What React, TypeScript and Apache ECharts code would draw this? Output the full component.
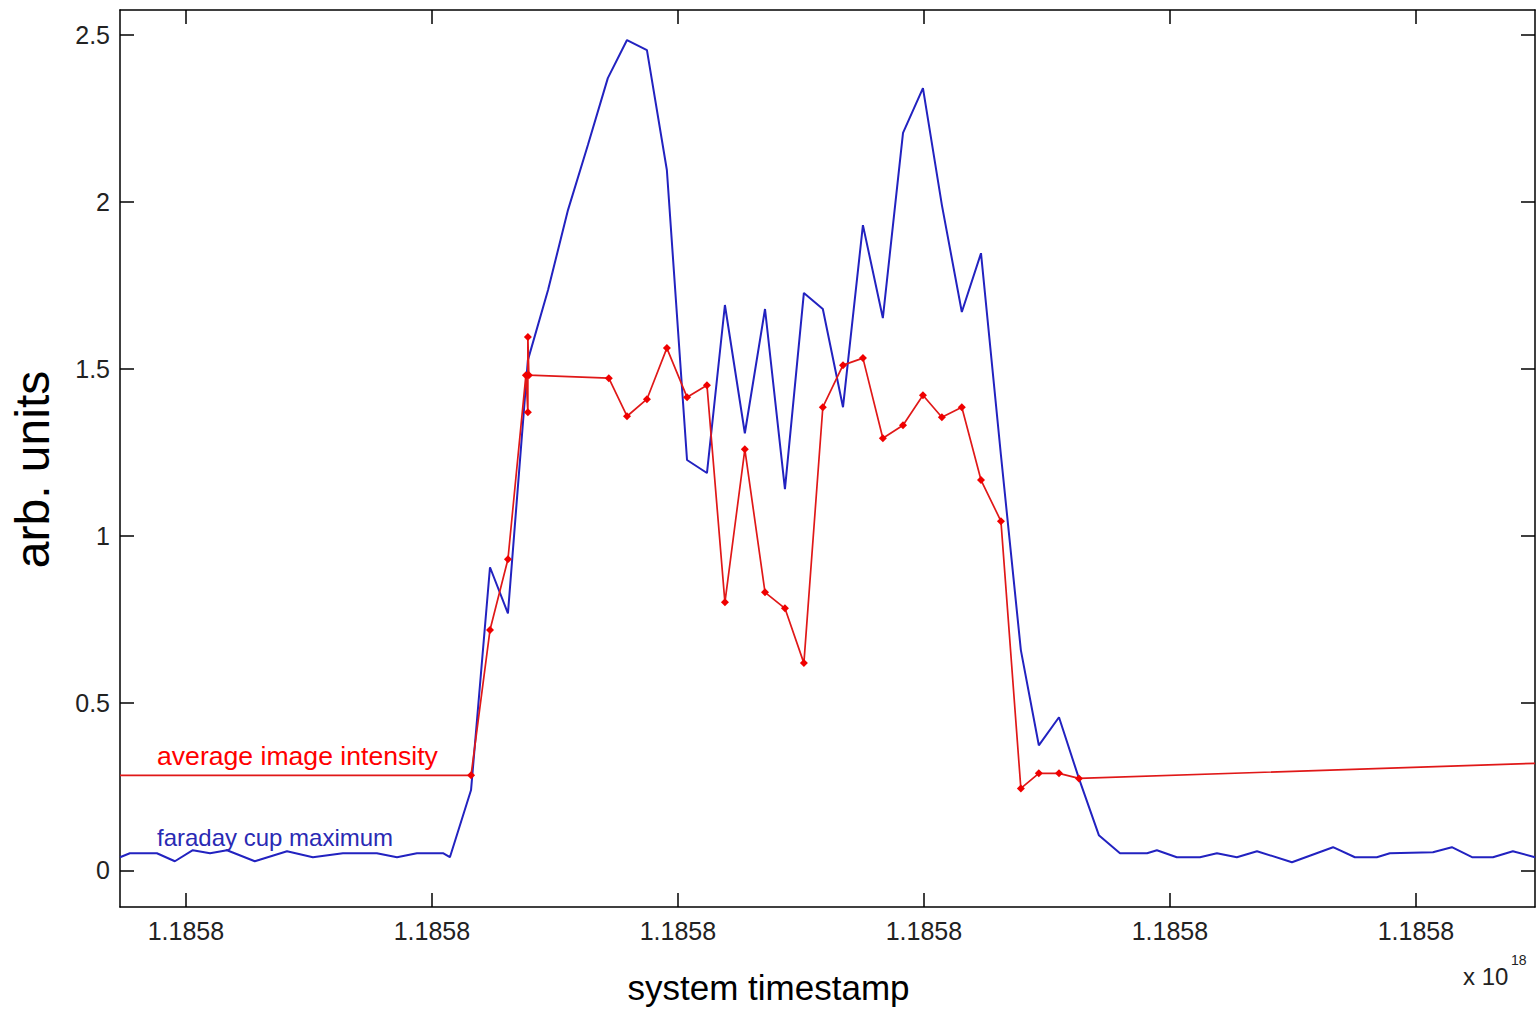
import React, { useEffect, useRef } from 'react';
import * as echarts from 'echarts';

// x in units of tick spacing (all ticks labelled 1.1858 x 10^18)
const xTicks = [1, 2, 3, 4, 5, 6];
const xTickLabels = ['1.1858', '1.1858', '1.1858', '1.1858', '1.1858', '1.1858'];
const yTicks = [0, 0.5, 1, 1.5, 2, 2.5];
const yTickLabels = ['0', '0.5', '1', '1.5', '2', '2.5'];
const X_MIN = 0.732;
const X_MAX = 6.484;
const Y_MIN = -0.11;
const Y_MAX = 2.575;

const blueTime = [
  0.732, 0.772, 0.882, 0.955, 1.028, 1.098, 1.167, 1.28, 1.411, 1.516, 1.638, 1.776, 1.858, 1.939,
  2.045, 2.073, 2.159, 2.236, 2.309, 2.39, 2.472, 2.553, 2.634, 2.715, 2.793, 2.874, 2.955, 3.037,
  3.118, 3.191, 3.272, 3.354, 3.435, 3.512, 3.589, 3.671, 3.752, 3.833, 3.915, 3.996, 4.073, 4.154,
  4.232, 4.313, 4.394, 4.467, 4.549, 4.63, 4.711, 4.797, 4.907, 4.947, 5.028, 5.122, 5.191, 5.272,
  5.354, 5.496, 5.663, 5.752, 5.841, 5.894, 6.069, 6.146, 6.228, 6.313, 6.394, 6.484,
];
const blueValue = [
  0.039, 0.051, 0.051, 0.027, 0.06, 0.051, 0.06, 0.027, 0.057, 0.039, 0.051, 0.051, 0.039, 0.051,
  0.051, 0.039, 0.24, 0.907, 0.769, 1.527, 1.737, 1.976, 2.171, 2.371, 2.485, 2.455, 2.096, 1.228,
  1.189, 1.692, 1.308, 1.68, 1.141, 1.728, 1.68, 1.386, 1.931, 1.653, 2.207, 2.341, 1.991, 1.671,
  1.847, 1.243, 0.659, 0.374, 0.458, 0.275, 0.105, 0.051, 0.051, 0.06, 0.039, 0.039, 0.051, 0.039,
  0.057, 0.024, 0.069, 0.039, 0.039, 0.051, 0.054, 0.069, 0.039, 0.039, 0.057, 0.039,
];

const redTime = [
  0.732, 2.159, 2.236, 2.309, 2.382, 2.39, 2.39, 2.394, 2.719, 2.793, 2.874, 2.955, 3.037, 3.118,
  3.191, 3.272, 3.354, 3.435, 3.512, 3.589, 3.671, 3.752, 3.833, 3.915, 3.996, 4.073, 4.154, 4.232,
  4.313, 4.394, 4.467, 4.549, 4.63, 6.484,
];
const redValue = [
  0.284, 0.284, 0.719, 0.931, 1.482, 1.371, 1.596, 1.482, 1.473, 1.359, 1.41, 1.563, 1.416, 1.452,
  0.802, 1.26, 0.832, 0.784, 0.62, 1.386, 1.512, 1.533, 1.293, 1.332, 1.422, 1.356, 1.386, 1.168,
  1.045, 0.245, 0.29, 0.29, 0.275, 0.32,
];

const FONT = '"Liberation Sans", Arial, Helvetica, sans-serif';

const near = (arr: number[], v: number) => arr.findIndex((a) => Math.abs(a - v) < 1e-9);

export default function App() {
  const ref = useRef<HTMLDivElement>(null);
  useEffect(() => {
    if (!ref.current) return;
    const chart = echarts.init(ref.current, undefined, { renderer: 'svg' });
    const axisLine = { show: true, onZero: false, lineStyle: { color: '#000', width: 1.5 } };
    const tickStyle = { color: '#000', width: 1.5 };
    const blueData = blueTime.map((t, i) => [t, blueValue[i]]);
    const redData = redTime.map((t, i) => {
      const edge = i === 0 || i === redTime.length - 1;
      return edge ? { value: [t, redValue[i]], symbol: 'none' } : { value: [t, redValue[i]] };
    });
    chart.setOption({
      animation: false,
      backgroundColor: '#fff',
      grid: { left: 120, top: 10, width: 1415, height: 897, containLabel: false },
      xAxis: [
        {
          type: 'value',
          position: 'bottom',
          min: X_MIN,
          max: X_MAX,
          axisLine,
          splitLine: { show: false },
          axisTick: { show: true, inside: true, length: 14, lineStyle: tickStyle, customValues: xTicks },
          axisLabel: {
            show: true,
            customValues: xTicks,
            margin: 11,
            color: '#222',
            fontSize: 25,
            fontFamily: FONT,
            formatter: (v: number) => xTickLabels[near(xTicks, v)] ?? '',
          },
          name: 'system timestamp',
          nameLocation: 'middle',
          nameGap: 63,
          nameTextStyle: { color: '#000', fontSize: 35, fontFamily: FONT, padding: [0, 118, 0, 0] },
        },
        {
          type: 'value',
          position: 'top',
          min: X_MIN,
          max: X_MAX,
          axisLine,
          splitLine: { show: false },
          axisTick: { show: true, inside: true, length: 14, lineStyle: tickStyle, customValues: xTicks },
          axisLabel: { show: false },
        },
      ],
      yAxis: [
        {
          type: 'value',
          position: 'left',
          min: Y_MIN,
          max: Y_MAX,
          axisLine,
          splitLine: { show: false },
          axisTick: { show: true, inside: true, length: 14, lineStyle: tickStyle, customValues: yTicks },
          axisLabel: {
            show: true,
            customValues: yTicks,
            margin: 10,
            color: '#222',
            fontSize: 25,
            fontFamily: FONT,
            formatter: (v: number) => yTickLabels[near(yTicks, v)] ?? '',
          },
          name: 'arb. units',
          nameLocation: 'middle',
          nameGap: 64,
          nameTextStyle: { color: '#000', fontSize: 48, fontFamily: FONT, padding: [0, 22, 0, 0] },
        },
        {
          type: 'value',
          position: 'right',
          min: Y_MIN,
          max: Y_MAX,
          axisLine,
          splitLine: { show: false },
          axisTick: { show: true, inside: true, length: 14, lineStyle: tickStyle, customValues: yTicks },
          axisLabel: { show: false },
        },
      ],
      series: [
        {
          name: 'faraday cup maximum',
          type: 'line',
          xAxisIndex: 0,
          yAxisIndex: 0,
          data: blueData,
          showSymbol: false,
          symbol: 'none',
          clip: true,
          lineStyle: { color: '#2222c0', width: 2 },
          itemStyle: { color: '#2222c0' },
        },
        {
          name: 'average image intensity',
          type: 'line',
          xAxisIndex: 0,
          yAxisIndex: 0,
          data: redData,
          symbol: 'diamond',
          symbolSize: 8,
          showAllSymbol: true,
          clip: true,
          lineStyle: { color: '#e01818', width: 1.7 },
          itemStyle: { color: '#f00000' },
          z: 3,
        },
      ],
      graphic: [
        {
          type: 'text',
          left: 157,
          top: 742,
          style: { text: 'average image intensity', fill: '#ff0000', fontSize: 26.6, fontFamily: FONT },
        },
        {
          type: 'text',
          left: 157,
          top: 825,
          style: { text: 'faraday cup maximum', fill: '#2a2ab4', fontSize: 24, fontFamily: FONT },
        },
        {
          type: 'text',
          left: 1463,
          top: 964,
          style: { text: 'x 10', fill: '#222', fontSize: 24, fontFamily: FONT },
        },
        {
          type: 'text',
          left: 1511,
          top: 953,
          style: { text: '18', fill: '#222', fontSize: 14, fontFamily: FONT },
        },
      ],
    });
    return () => chart.dispose();
  }, []);
  return (
    <div
      ref={ref}
      style={{ position: 'fixed', left: 0, top: 0, width: 1537, height: 1014, background: '#fff' }}
    />
  );
}
